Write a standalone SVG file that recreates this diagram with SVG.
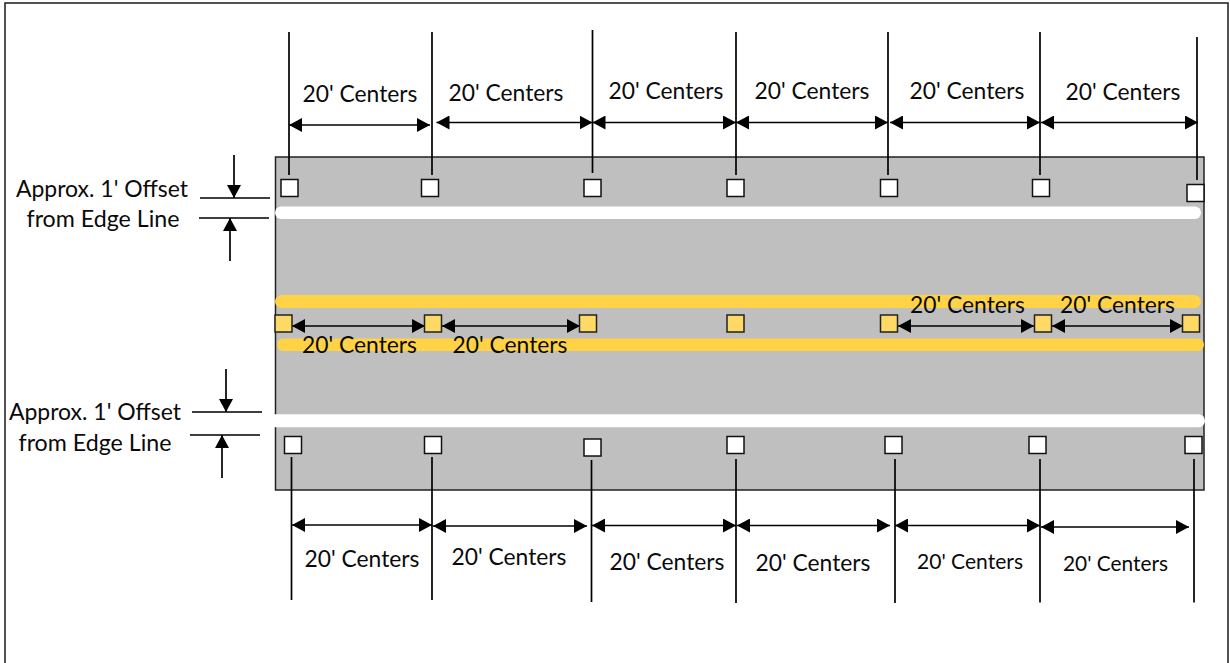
<svg xmlns="http://www.w3.org/2000/svg" width="1230" height="663" viewBox="0 0 1230 663">
<style>
text{font-family:"Lato","Liberation Sans",sans-serif;font-size:22.500px;fill:#0a0a0a;text-anchor:middle}
.s{font-size:20.500px}
.w{fill:#fff;stroke:#111;stroke-width:1.5}
.y{fill:#ffd966;stroke:#222;stroke-width:1.5}
.l{stroke:#000;stroke-width:1.7;fill:none}
.a{stroke:#000;stroke-width:1.7;fill:none;marker-end:url(#h)}
.d{stroke:#000;stroke-width:1.7;fill:none;marker-start:url(#h);marker-end:url(#h)}
</style>
<defs><marker id="h" markerUnits="userSpaceOnUse" markerWidth="14" markerHeight="14" refX="13" refY="7" orient="auto-start-reverse"><path d="M0 0L13 7L0 14Z" fill="#000"/></marker></defs>
<rect width="1230" height="663" fill="#fff"/>
<rect id="frame" x="5" y="3" width="1223" height="680" fill="#fff" stroke="#1a1a1a" stroke-width="1.500"/>
<g id="road">
<rect x="275.500" y="157" width="928.500" height="333" fill="#bfbfbf" stroke="#222" stroke-width="1.500"/>
<rect x="275" y="206.500" width="926" height="12.500" rx="6.200" fill="#fff"/>
<rect x="262" y="414.300" width="943" height="13" rx="6.500" fill="#fff"/>
<rect x="275" y="295" width="926" height="13" rx="6.500" fill="#ffd345"/>
<rect x="277" y="338.500" width="927" height="12.500" rx="6.200" fill="#ffd345"/>
</g>
<g id="connectors">
<path class="l" d="M289 32V175M432 32V175M592.500 30V173M736 32V175M888 32V175M1040 32V175M1197 37V180"/>
<path class="l" d="M291.500 457V600M432 457V600M591.500 460V602M736 459V603M895 459V603M1040 459V602.500M1194 459V602.500"/>
<path class="d" d="M289 125H430"/><path class="d" d="M436.500 122.500H592.500"/><path class="d" d="M592.500 122.500H736"/><path class="d" d="M736 122.500H888"/><path class="d" d="M890 122.500H1040"/><path class="d" d="M1041 122.500H1198"/>
<path class="d" d="M292 525H432"/><path class="d" d="M433 526H587"/><path class="d" d="M592 525.500H736"/><path class="d" d="M737 525.500H890"/><path class="d" d="M895 525.500H1040"/><path class="d" d="M1041 527H1189"/>
<path class="d" d="M292 326H425"/><path class="d" d="M442 326H580"/><path class="d" d="M898 326H1034"/><path class="d" d="M1052 326H1183"/>
<path class="l" d="M200 198H270M199 218H269M192 412H262M190 435H260"/>
<path class="a" d="M234 155V198"/><path class="a" d="M230 261V218"/><path class="a" d="M226 369V412"/><path class="a" d="M222 478V435"/>
</g>
<g id="post-top-1"><rect class="w" x="281" y="179.500" width="17" height="17"/></g>
<g id="post-top-2"><rect class="w" x="421.500" y="179.500" width="17" height="17"/></g>
<g id="post-top-3"><rect class="w" x="584" y="179.500" width="17" height="17"/></g>
<g id="post-top-4"><rect class="w" x="727" y="179.500" width="17" height="17"/></g>
<g id="post-top-5"><rect class="w" x="880.500" y="179.500" width="17" height="17"/></g>
<g id="post-top-6"><rect class="w" x="1032.500" y="179.500" width="17" height="17"/></g>
<g id="post-top-7"><rect class="w" x="1187" y="184.500" width="17" height="17"/></g>
<g id="post-mid-1"><rect class="y" x="275" y="315" width="17" height="17"/></g>
<g id="post-mid-2"><rect class="y" x="424.500" y="315" width="17" height="17"/></g>
<g id="post-mid-3"><rect class="y" x="579.500" y="315" width="17" height="17"/></g>
<g id="post-mid-4"><rect class="y" x="727" y="315" width="17" height="17"/></g>
<g id="post-mid-5"><rect class="y" x="880.500" y="315" width="17" height="17"/></g>
<g id="post-mid-6"><rect class="y" x="1034.500" y="315" width="17" height="17"/></g>
<g id="post-mid-7"><rect class="y" x="1182.500" y="315" width="17" height="17"/></g>
<g id="post-bot-1"><rect class="w" x="284.500" y="436.500" width="17" height="17"/></g>
<g id="post-bot-2"><rect class="w" x="424.500" y="436.500" width="17" height="17"/></g>
<g id="post-bot-3"><rect class="w" x="584" y="439" width="17" height="17"/></g>
<g id="post-bot-4"><rect class="w" x="727" y="436.500" width="17" height="17"/></g>
<g id="post-bot-5"><rect class="w" x="885" y="436.500" width="17" height="17"/></g>
<g id="post-bot-6"><rect class="w" x="1029" y="436.500" width="17" height="17"/></g>
<g id="post-bot-7"><rect class="w" x="1185" y="436.500" width="17" height="17"/></g>
<g id="labels">
<text x="102" y="197" textLength="172" lengthAdjust="spacingAndGlyphs">Approx. 1' Offset</text>
<text x="103" y="227" textLength="153" lengthAdjust="spacingAndGlyphs">from Edge Line</text>
<text x="95" y="420" textLength="172" lengthAdjust="spacingAndGlyphs">Approx. 1' Offset</text>
<text x="95" y="451" textLength="153" lengthAdjust="spacingAndGlyphs">from Edge Line</text>
<text x="360" y="102" textLength="115" lengthAdjust="spacingAndGlyphs">20' Centers</text>
<text x="506" y="101" textLength="115" lengthAdjust="spacingAndGlyphs">20' Centers</text>
<text x="666" y="99" textLength="115" lengthAdjust="spacingAndGlyphs">20' Centers</text>
<text x="812" y="99" textLength="115" lengthAdjust="spacingAndGlyphs">20' Centers</text>
<text x="967" y="99" textLength="115" lengthAdjust="spacingAndGlyphs">20' Centers</text>
<text x="1123" y="99.500" textLength="115" lengthAdjust="spacingAndGlyphs">20' Centers</text>
<text x="967.500" y="313" textLength="115" lengthAdjust="spacingAndGlyphs">20' Centers</text>
<text x="1117.500" y="313" textLength="115" lengthAdjust="spacingAndGlyphs">20' Centers</text>
<text x="359.500" y="353" textLength="115" lengthAdjust="spacingAndGlyphs">20' Centers</text>
<text x="510" y="353" textLength="115" lengthAdjust="spacingAndGlyphs">20' Centers</text>
<text x="362" y="567" textLength="115" lengthAdjust="spacingAndGlyphs">20' Centers</text>
<text x="509" y="564.500" textLength="115" lengthAdjust="spacingAndGlyphs">20' Centers</text>
<text x="667" y="569.500" textLength="115" lengthAdjust="spacingAndGlyphs">20' Centers</text>
<text x="813" y="571" textLength="115" lengthAdjust="spacingAndGlyphs">20' Centers</text>
<text class="s" x="970" y="568.500" textLength="106" lengthAdjust="spacingAndGlyphs">20' Centers</text>
<text class="s" x="1115.500" y="571" textLength="105" lengthAdjust="spacingAndGlyphs">20' Centers</text>
</g>
</svg>
